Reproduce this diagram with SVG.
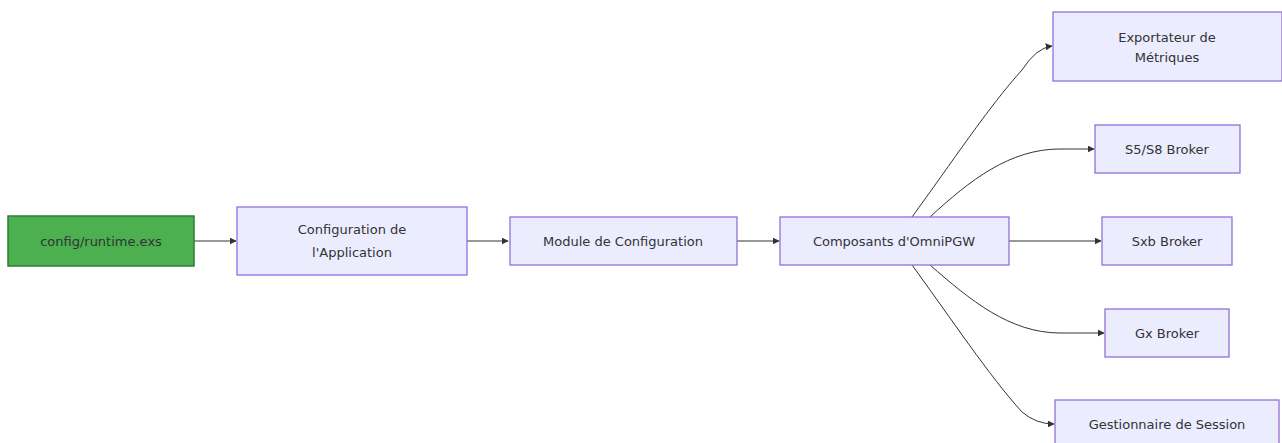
<svg xmlns="http://www.w3.org/2000/svg" width="1282" height="443" viewBox="0 0 1282 443">
<defs>
<marker id="arr" viewBox="0 0 10 10" refX="9" refY="5" markerWidth="7" markerHeight="7" markerUnits="userSpaceOnUse" orient="auto">
<path d="M0,0 L10,5 L0,10 z" fill="#333"/>
</marker>
<style>
.node rect{fill:#ECECFF;stroke:#9370DB;stroke-width:1.3}
.node.green rect{fill:#4CAF50;stroke:#2E7D32;stroke-width:1.5}
.node text{font-family:"DejaVu Sans",Verdana,sans-serif;font-size:13px;fill:#333;text-anchor:middle;dominant-baseline:central}
.edges path{fill:none;stroke:#333;stroke-width:1;marker-end:url(#arr)}
</style>
</defs>
<rect width="1282" height="443" fill="#fff"/>
<g class="edges">
<path d="M194,241 L236,241"/>
<path d="M467,241 L508,241"/>
<path d="M737,241 L779,241"/>
<path d="M1009,241 L1101,241"/>
<path d="M912,217 C950,165 990,105 1022,70 Q1036,48 1052,46"/>
<path d="M930,217 C970,180 1010,149 1060,149 L1094,149"/>
<path d="M930,265 C970,300 1010,333 1060,333 L1104,333"/>
<path d="M912,265 C950,317 990,377 1022,412 Q1036,424 1054,424"/>
</g>
<g id="runtime" class="node green"><rect x="8" y="216" width="186" height="50"/><text x="101" y="241">config/runtime.exs</text></g>
<g id="appconfig" class="node"><rect x="237" y="207" width="230" height="68"/><text x="352" y="229">Configuration de</text><text x="352" y="252">l'Application</text></g>
<g id="configmodule" class="node"><rect x="510" y="217" width="227" height="48"/><text x="623" y="241">Module de Configuration</text></g>
<g id="components" class="node"><rect x="780" y="217" width="229" height="48"/><text x="894" y="241">Composants d'OmniPGW</text></g>
<g id="metrics" class="node"><rect x="1053" y="12" width="229" height="69"/><text x="1167" y="37">Exportateur de</text><text x="1167" y="57">Métriques</text></g>
<g id="s5s8" class="node"><rect x="1095" y="125" width="145" height="48"/><text x="1167" y="149">S5/S8 Broker</text></g>
<g id="sxb" class="node"><rect x="1102" y="217" width="130" height="48"/><text x="1167" y="241">Sxb Broker</text></g>
<g id="gx" class="node"><rect x="1105" y="309" width="124" height="48"/><text x="1167" y="333">Gx Broker</text></g>
<g id="session" class="node"><rect x="1055" y="400" width="224" height="48"/><text x="1167" y="424">Gestionnaire de Session</text></g>
</svg>
